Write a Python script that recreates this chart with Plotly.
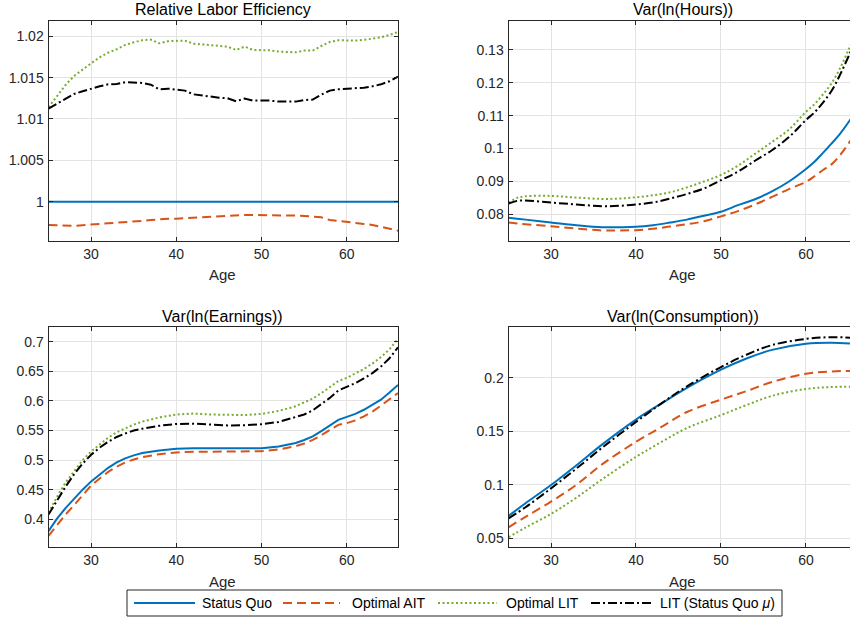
import plotly.graph_objects as go

# ---- data ----
series_names = ["Status Quo", "Optimal AIT", "Optimal LIT", "LIT (Status Quo <i>μ</i>)"]
series_colors = ["#0072BD", "#D95319", "#77AC30", "#000000"]
series_dash = ["solid", "9px,5px", "2px,2.5px", "9px,3px,2px,3px"]

# Relative Labor Efficiency, ages 25..66
ages_eff = list(range(25, 67))
eff_sq = [1.0, 1.0, 1.0, 1.0, 1.0, 1.0, 1.0, 1.0, 1.0, 1.0, 1.0, 1.0, 1.0, 1.0,
          1.0, 1.0, 1.0, 1.0, 1.0, 1.0, 1.0, 1.0, 1.0, 1.0, 1.0, 1.0, 1.0, 1.0,
          1.0, 1.0, 1.0, 1.0, 1.0, 1.0, 1.0, 1.0, 1.0, 1.0, 1.0, 1.0, 1.0, 1.0]
eff_ait = [0.99718, 0.99714, 0.99710, 0.99706, 0.99716, 0.99726, 0.99732, 0.99738,
           0.99745, 0.99751, 0.99758, 0.99768, 0.99779, 0.99790, 0.99792, 0.99794,
           0.99800, 0.99807, 0.99814, 0.99820, 0.99827, 0.99831, 0.99835, 0.99839,
           0.99839, 0.99839, 0.99838, 0.99837, 0.99835, 0.99831, 0.99827, 0.99819,
           0.99810, 0.99778, 0.99768, 0.99758, 0.99745, 0.99731, 0.99718, 0.99695,
           0.99672, 0.99649]
eff_lit = [1.01141, 1.01270, 1.01411, 1.01520, 1.01600, 1.01673, 1.01746, 1.01802,
           1.01843, 1.01895, 1.01927, 1.01952, 1.01960, 1.01915, 1.01940, 1.01940,
           1.01948, 1.01911, 1.01903, 1.01899, 1.01883, 1.01875, 1.01835, 1.01875,
           1.01835, 1.01835, 1.01830, 1.01815, 1.01815, 1.01806, 1.01827, 1.01827,
           1.01883, 1.01931, 1.01952, 1.01948, 1.01948, 1.01956, 1.01968, 1.01988,
           1.02016, 1.02052]
eff_litsq = [1.01125, 1.01181, 1.01246, 1.01302, 1.01335, 1.01367, 1.01395, 1.01419,
             1.01423, 1.01444, 1.01440, 1.01436, 1.01415, 1.01359, 1.01367, 1.01355,
             1.01343, 1.01298, 1.01282, 1.01274, 1.01258, 1.01250, 1.01214, 1.01246,
             1.01222, 1.01222, 1.01222, 1.01210, 1.01214, 1.01210, 1.01230, 1.01234,
             1.01294, 1.01343, 1.01359, 1.01363, 1.01371, 1.01379, 1.01395, 1.01419,
             1.01456, 1.01512]

# Var(ln(Hours))
ages_hrs = [25, 26, 27, 30, 33, 36, 38, 40, 42, 44, 46, 48, 50, 52, 54, 56, 58, 60,
            61, 62, 63, 64, 65, 66]
hrs_sq = [0.0790, 0.0787, 0.0784, 0.0775, 0.0767, 0.0761, 0.0761, 0.0762, 0.0767,
          0.0775, 0.0784, 0.0796, 0.0808, 0.0828, 0.0846, 0.0870, 0.0900, 0.0938,
          0.0960, 0.0987, 0.1015, 0.1045, 0.1080, 0.1120]
hrs_ait = [0.0775, 0.0772, 0.0770, 0.0764, 0.0757, 0.0751, 0.0751, 0.0752, 0.0756,
           0.0763, 0.0770, 0.0779, 0.0794, 0.0810, 0.0830, 0.0853, 0.0877, 0.0899,
           0.0916, 0.0935, 0.0952, 0.0980, 0.1015, 0.1055]
hrs_lit = [0.0835, 0.0850, 0.0855, 0.0856, 0.0851, 0.0847, 0.0848, 0.0852, 0.0858,
           0.0867, 0.0882, 0.0900, 0.0920, 0.0948, 0.0984, 0.1020, 0.1058, 0.1112,
           0.1135, 0.1165, 0.1198, 0.1244, 0.1300, 0.1360]
hrs_litsq = [0.0833, 0.0841, 0.0842, 0.0836, 0.0830, 0.0825, 0.0826, 0.0830, 0.0836,
             0.0848, 0.0862, 0.0879, 0.0904, 0.0930, 0.0963, 0.0995, 0.1035, 0.1087,
             0.1110, 0.1140, 0.1175, 0.1224, 0.1280, 0.1340]

# Var(ln(Earnings))
ages_earn = [25, 26, 27, 28, 29, 30, 31, 32, 33, 34, 35, 36, 38, 40, 42, 44, 46, 48,
             50, 52, 54, 55, 56, 57, 58, 59, 60, 61, 62, 63, 64, 65, 66]
earn_sq = [0.380, 0.401, 0.419, 0.435, 0.450, 0.464, 0.476, 0.487, 0.496, 0.503,
           0.508, 0.512, 0.516, 0.519, 0.520, 0.520, 0.519, 0.519, 0.520, 0.523,
           0.529, 0.534, 0.540, 0.549, 0.558, 0.568, 0.573, 0.578, 0.585, 0.593,
           0.602, 0.614, 0.627]
earn_ait = [0.372, 0.390, 0.408, 0.424, 0.441, 0.457, 0.469, 0.480, 0.489, 0.496,
            0.501, 0.505, 0.510, 0.513, 0.514, 0.5145, 0.5145, 0.5145, 0.515, 0.518,
            0.5235, 0.528, 0.534, 0.542, 0.551, 0.5595, 0.5625, 0.567, 0.574, 0.582,
            0.592, 0.602, 0.6134]
earn_lit = [0.411, 0.438, 0.462, 0.482, 0.500, 0.5145, 0.527, 0.538, 0.547, 0.554,
            0.560, 0.565, 0.572, 0.577, 0.5785, 0.577, 0.576, 0.576, 0.578, 0.583,
            0.591, 0.597, 0.604, 0.613, 0.623, 0.6335, 0.639, 0.646, 0.654, 0.663,
            0.674, 0.687, 0.705]
earn_litsq = [0.408, 0.432, 0.455, 0.476, 0.494, 0.509, 0.521, 0.531, 0.539, 0.545,
              0.550, 0.553, 0.558, 0.561, 0.5615, 0.560, 0.5585, 0.559, 0.5605, 0.5645,
              0.572, 0.577, 0.584, 0.594, 0.605, 0.6175, 0.6235, 0.630, 0.638, 0.647,
              0.658, 0.672, 0.6905]

# Var(ln(Consumption))
ages_cons = [25, 27, 30, 33, 36, 40, 43, 46, 50, 53, 56, 60, 63, 66]
cons_sq = [0.0708, 0.0827, 0.0997, 0.1183, 0.1375, 0.1609, 0.1760, 0.1905, 0.2075,
           0.2180, 0.2260, 0.2317, 0.2326, 0.2315]
cons_ait = [0.0602, 0.0700, 0.0842, 0.1000, 0.1190, 0.1401, 0.1540, 0.1680, 0.1795,
            0.1875, 0.1960, 0.2037, 0.2059, 0.2063]
cons_lit = [0.0509, 0.0600, 0.0727, 0.0880, 0.1050, 0.1261, 0.1400, 0.1530, 0.1650,
            0.1745, 0.1830, 0.1895, 0.1913, 0.1915]
cons_litsq = [0.0686, 0.0790, 0.0966, 0.1152, 0.1345, 0.1587, 0.1760, 0.1920, 0.2100,
              0.2215, 0.2305, 0.2363, 0.2379, 0.2370]

x_ticks = [30, 40, 50, 60]
eff_ticks = [1.0, 1.005, 1.01, 1.015, 1.02]
eff_ticktext = ["1", "1.005", "1.01", "1.015", "1.02"]
hrs_ticks = [0.08, 0.09, 0.10, 0.11, 0.12, 0.13]
hrs_ticktext = ["0.08", "0.09", "0.1", "0.11", "0.12", "0.13"]
earn_ticks = [0.4, 0.45, 0.5, 0.55, 0.6, 0.65, 0.7]
earn_ticktext = ["0.4", "0.45", "0.5", "0.55", "0.6", "0.65", "0.7"]
cons_ticks = [0.05, 0.10, 0.15, 0.20]
cons_ticktext = ["0.05", "0.1", "0.15", "0.2"]

panels = [
    ("Relative Labor Efficiency", ages_eff, [eff_sq, eff_ait, eff_lit, eff_litsq]),
    ("Var(ln(Hours))", ages_hrs, [hrs_sq, hrs_ait, hrs_lit, hrs_litsq]),
    ("Var(ln(Earnings))", ages_earn, [earn_sq, earn_ait, earn_lit, earn_litsq]),
    ("Var(ln(Consumption))", ages_cons, [cons_sq, cons_ait, cons_lit, cons_litsq]),
]

W, H = 850, 617
FONT = "Liberation Sans, Arial, Helvetica, sans-serif"
DARK = "#262626"


def px(x):
    return x / W


def py(y):
    return 1 - y / H


fig = go.Figure()

for i, (title, ages, ys) in enumerate(panels):
    ax = "" if i == 0 else str(i + 1)
    smooth = "spline" if i in (1, 3) else "linear"
    for k in range(4):
        fig.add_trace(go.Scatter(
            x=ages, y=ys[k], name=series_names[k], mode="lines",
            line=dict(color=series_colors[k], width=2, dash=series_dash[k], shape=smooth),
            xaxis="x" + ax, yaxis="y" + ax, showlegend=False,
        ))

left_dom = [px(48.5), px(398)]
right_dom = [px(508.5), 1.0]
top_dom = [py(241), py(21)]
bot_dom = [py(546.7), py(327)]

common = dict(
    showline=True, linecolor=DARK, linewidth=1,
    ticks="inside", ticklen=4, tickcolor=DARK, tickwidth=1,
    showgrid=True, gridcolor="#e3e3e3", gridwidth=1, zeroline=False,
    tickfont=dict(family=FONT, size=14, color=DARK),
)


def xax(dom, anchor, rng):
    return dict(common, domain=dom, anchor=anchor, range=rng, tickvals=x_ticks,
                mirror="ticks", ticklabelstandoff=0)


def yax(dom, anchor, rng, tv, tt, mirror):
    return dict(common, domain=dom, anchor=anchor, range=rng, tickvals=tv, ticktext=tt,
                mirror=mirror, ticklabelstandoff=1)


fig.update_layout(
    width=W, height=H,
    margin=dict(l=0, r=0, t=0, b=0),
    paper_bgcolor="white", plot_bgcolor="white",
    font=dict(family=FONT, color=DARK),
    showlegend=False,
    xaxis=xax(left_dom, "y", [25, 66]),
    yaxis=yax(top_dom, "x", [0.99524, 1.02185], eff_ticks, eff_ticktext, "ticks"),
    xaxis2=xax(right_dom, "y2", [25, 65.18]),
    yaxis2=yax(top_dom, "x2", [0.0719, 0.1388], hrs_ticks, hrs_ticktext, False),
    xaxis3=xax(left_dom, "y3", [25, 66]),
    yaxis3=yax(bot_dom, "x3", [0.3537, 0.7248], earn_ticks, earn_ticktext, "ticks"),
    xaxis4=xax(right_dom, "y4", [25, 65.18]),
    yaxis4=yax(bot_dom, "x4", [0.0421, 0.2474], cons_ticks, cons_ticktext, False),
)

# panel titles and "Age" labels
title_pos = [(223, 10), (682.7, 10), (223, 316), (682.7, 316)]
age_pos = [(223, 275), (682.7, 275), (223, 581), (682.7, 581)]
for (title, _, _), (tx, ty), (ax_, ay_) in zip(panels, title_pos, age_pos):
    fig.add_annotation(text=title, x=px(tx), y=py(ty), xref="paper", yref="paper",
                       xanchor="center", yanchor="middle", showarrow=False,
                       font=dict(family=FONT, size=16, color="#000000"))
    fig.add_annotation(text="Age", x=px(ax_), y=py(ay_), xref="paper", yref="paper",
                       xanchor="center", yanchor="middle", showarrow=False,
                       font=dict(family=FONT, size=15, color=DARK))

# legend box drawn like the MATLAB one
fig.add_shape(type="rect", xref="paper", yref="paper",
              x0=px(127), x1=px(782), y0=py(616), y1=py(590),
              line=dict(color=DARK, width=1), fillcolor="white")
sample_x = [(134, 195), (283, 340), (438, 497), (591, 652)]
text_x = [200, 350, 504, 658]
for k in range(4):
    x0, x1 = sample_x[k]
    fig.add_shape(type="line", xref="paper", yref="paper",
                  x0=px(x0), x1=px(x1), y0=py(603), y1=py(603),
                  line=dict(color=series_colors[k], width=2, dash=series_dash[k]))
    fig.add_annotation(text=series_names[k], x=px(text_x[k]), y=py(603),
                       xref="paper", yref="paper", xanchor="left", yanchor="middle",
                       showarrow=False, font=dict(family=FONT, size=14, color="#000000"))

# page body has an 8px default margin; drop it so the 850x617 figure fits the window
fig.write_html("out.html", config={"displayModeBar": False},
               post_script="document.body.style.margin='0';")
